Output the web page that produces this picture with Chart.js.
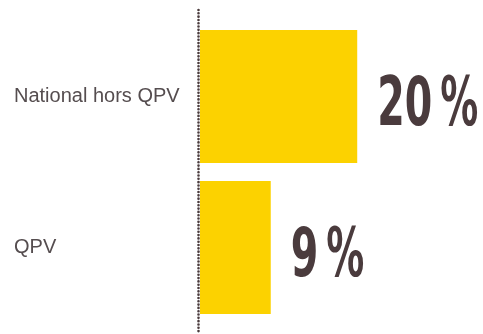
<!DOCTYPE html>
<html>
<head>
<meta charset="utf-8">
<script src="https://cdn.jsdelivr.net/npm/chart.js@4"></script>
<style>
html,body{margin:0;padding:0;background:#fff;}
#wrap{width:483px;height:334px;position:relative;}
</style>
</head>
<body>
<div id="wrap"><canvas id="c" width="483" height="334"></canvas></div>
<script>
const categories = ["National hors QPV", "QPV"];
const values = [20, 9];
const valueLabels = ["20", "9"];
const unitLabel = "%";

const barColor = "#FCD200";
const darkText = "#4a3b3d";

const dottedAxis = {
  id: "dottedAxis",
  afterDraw(chart) {
    const ctx = chart.ctx;
    const x = chart.scales.x.getPixelForValue(0) - 1.5;
    ctx.save();
    ctx.strokeStyle = darkText;
    ctx.lineWidth = 2.6;
    ctx.lineCap = "round";
    ctx.setLineDash([0.01, 3.3]);
    ctx.beginPath();
    ctx.moveTo(x, 10);
    ctx.lineTo(x, 334);
    ctx.stroke();
    ctx.restore();
  }
};

const bigLabels = {
  id: "bigLabels",
  afterDatasetsDraw(chart) {
    const ctx = chart.ctx;
    const meta = chart.getDatasetMeta(0);
    ctx.save();
    ctx.fillStyle = darkText;
    ctx.textBaseline = "alphabetic";
    ctx.textAlign = "left";
    ctx.font = "bold 68px 'DejaVu Sans Condensed', 'Liberation Sans Narrow', sans-serif";
    meta.data.forEach((bar, i) => {
      const x0 = bar.x + 20;
      const y0 = bar.y + 28;
      const txt = valueLabels[i];
      const w = ctx.measureText(txt).width;
      const targetW = 27.5 * txt.length;
      const sx = targetW / w;
      ctx.save();
      ctx.translate(x0, y0);
      ctx.scale(sx, 1);
      ctx.fillText(txt, 0, 0);
      ctx.restore();
      const pw = ctx.measureText(unitLabel).width;
      ctx.save();
      ctx.translate(x0 + targetW + 8, y0);
      ctx.scale(38 / pw, 1);
      ctx.fillText(unitLabel, 0, 0);
      ctx.restore();
    });
    ctx.restore();
  }
};

new Chart(document.getElementById("c"), {
  type: "bar",
  data: {
    labels: categories,
    datasets: [{
      data: values,
      backgroundColor: barColor,
      borderWidth: 0,
      categoryPercentage: 1,
      barPercentage: 0.88
    }]
  },
  options: {
    indexAxis: "y",
    responsive: false,
    animation: false,
    devicePixelRatio: 1,
    layout: { padding: { left: 14, top: 21, bottom: 11, right: 0 } },
    plugins: { legend: { display: false }, tooltip: { enabled: false } },
    scales: {
      x: { display: false, min: 0, max: 36 },
      y: {
        grid: { display: false },
        border: { display: false },
        afterFit(scale) {
          scale.width = 186;
          scale.paddingTop = 0;
          scale.paddingBottom = 0;
        },
        ticks: {
          crossAlign: "far",
          color: "#554d4f",
          font: { family: "'Liberation Sans', Arial, sans-serif", size: 20, weight: "normal" }
        }
      }
    }
  },
  plugins: [dottedAxis, bigLabels]
});
</script>
</body>
</html>
